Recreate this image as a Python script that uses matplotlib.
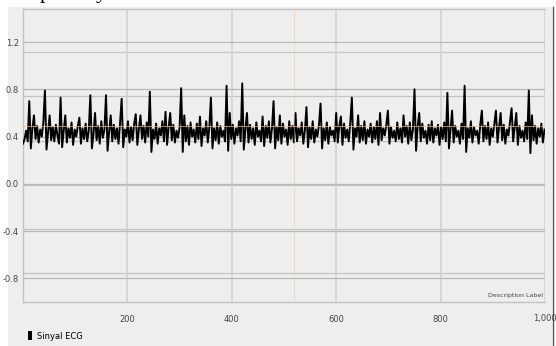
import numpy as np
import matplotlib
matplotlib.use("Agg")
from matplotlib import pyplot as plt
from matplotlib.patches import Patch, Rectangle

# ECG samples, one every 3 x-units (0 .. 999)
ecg = [
    0.34, 0.38, 0.45, 0.36, 0.70, 0.30, 0.47, 0.58, 0.38, 0.49, 0.35, 0.46, 0.40, 0.52, 0.79, 0.29, 0.44, 0.58, 0.37, 0.48,
    0.36, 0.50, 0.41, 0.34, 0.73, 0.31, 0.45, 0.58, 0.35, 0.47, 0.39, 0.52, 0.33, 0.46, 0.40, 0.49, 0.56, 0.34, 0.47, 0.38,
    0.51, 0.36, 0.45, 0.75, 0.30, 0.42, 0.60, 0.37, 0.49, 0.34, 0.53, 0.39, 0.46, 0.75, 0.28, 0.44, 0.58, 0.36, 0.50, 0.38,
    0.47, 0.34, 0.52, 0.72, 0.31, 0.46, 0.40, 0.53, 0.35, 0.48, 0.37, 0.51, 0.59, 0.33, 0.46, 0.58, 0.38, 0.49, 0.35, 0.52,
    0.40, 0.78, 0.27, 0.46, 0.38, 0.51, 0.34, 0.47, 0.41, 0.53, 0.36, 0.61, 0.33, 0.48, 0.60, 0.37, 0.50, 0.35, 0.45, 0.39,
    0.48, 0.81, 0.27, 0.58, 0.36, 0.49, 0.33, 0.52, 0.40, 0.46, 0.35, 0.51, 0.38, 0.57, 0.32, 0.47, 0.41, 0.53, 0.35, 0.48,
    0.73, 0.30, 0.47, 0.37, 0.52, 0.34, 0.49, 0.40, 0.45, 0.36, 0.83, 0.28, 0.60, 0.38, 0.50, 0.34, 0.47, 0.41, 0.53, 0.36,
    0.85, 0.29, 0.46, 0.60, 0.35, 0.50, 0.38, 0.47, 0.33, 0.52, 0.40, 0.45, 0.36, 0.57, 0.32, 0.49, 0.39, 0.53, 0.35, 0.47,
    0.70, 0.30, 0.48, 0.37, 0.58, 0.34, 0.51, 0.40, 0.46, 0.33, 0.53, 0.38, 0.49, 0.35, 0.60, 0.36, 0.47, 0.41, 0.52, 0.34,
    0.45, 0.65, 0.31, 0.48, 0.38, 0.53, 0.35, 0.46, 0.40, 0.50, 0.68, 0.30, 0.47, 0.37, 0.52, 0.34, 0.48, 0.41, 0.45, 0.36,
    0.60, 0.35, 0.49, 0.57, 0.33, 0.51, 0.39, 0.46, 0.36, 0.52, 0.73, 0.29, 0.47, 0.40, 0.58, 0.35, 0.49, 0.37, 0.53, 0.34,
    0.46, 0.40, 0.51, 0.35, 0.48, 0.38, 0.53, 0.33, 0.60, 0.37, 0.47, 0.41, 0.50, 0.62, 0.34, 0.48, 0.39, 0.45, 0.36, 0.52,
    0.38, 0.47, 0.35, 0.58, 0.40, 0.49, 0.34, 0.52, 0.37, 0.46, 0.80, 0.28, 0.48, 0.60, 0.36, 0.51, 0.39, 0.45, 0.34, 0.50,
    0.37, 0.53, 0.35, 0.47, 0.41, 0.50, 0.33, 0.48, 0.38, 0.52, 0.36, 0.77, 0.30, 0.46, 0.62, 0.35, 0.49, 0.40, 0.45, 0.34,
    0.51, 0.38, 0.83, 0.27, 0.47, 0.39, 0.53, 0.35, 0.48, 0.41, 0.45, 0.34, 0.50, 0.62, 0.36, 0.49, 0.38, 0.52, 0.33, 0.47,
    0.40, 0.51, 0.62, 0.35, 0.48, 0.60, 0.37, 0.50, 0.34, 0.46, 0.41, 0.53, 0.64, 0.36, 0.48, 0.60, 0.33, 0.49, 0.39, 0.45,
    0.36, 0.52, 0.38, 0.79, 0.26, 0.58, 0.37, 0.49, 0.34, 0.47, 0.40, 0.51, 0.35, 0.46,
]
sample_step = 3

x_ticks = [200, 400, 600, 800, 1000]
x_labels = ['200', '400', '600', '800', '1,000']
y_ticks = [-0.8, -0.4, 0.0, 0.4, 0.8, 1.2]
y_labels = ['-0.8', '-0.4', '0.0', '0.4', '0.8', '1.2']
right_ticks = [-0.8, -0.4, 0.0, 0.4, 0.8, 1.2]
highlight_x = 520
highlight_y = 0.49

font = ['Liberation Sans Narrow', 'DejaVu Sans']

fig = plt.figure(figsize=(5.56, 3.46), dpi=100)
fig.patch.set_facecolor('white')
fig.patches.append(Rectangle((8/556, 0), 544/556, 339/346, transform=fig.transFigure,
                             facecolor='#eeeeee', edgecolor='none', zorder=-5))
fig.lines.append(plt.Line2D([553/556, 553/556], [0, 339/346], transform=fig.transFigure,
                            color='#555555', lw=1.0))

# bits of document text cut off at the top
fig.text(40/556, 1 + 2/346, 'p', family='Liberation Serif', fontsize=16, va='baseline')
fig.text(96/556, 1 + 2/346, 'y', family='Liberation Serif', fontsize=16, va='baseline')

rect = [23/556, 44/346, 522/556, 293/346]
ax2 = fig.add_axes(rect)
ax = fig.add_axes(rect, sharex=ax2)
ax.set_zorder(ax2.get_zorder() + 1)
ax.patch.set_visible(False)
ax2.set_facecolor('#eeeeee')

# right axis grid (labels hidden)
ax2.set_ylim(-1.06, 1.59)
ax2.set_yticks(right_ticks)
ax2.tick_params(left=False, labelleft=False, bottom=False, labelbottom=False)
ax2.grid(axis='y', color='#c4c4c4', lw=0.9)
for s in ax2.spines.values():
    s.set_visible(False)

x = np.arange(len(ecg)) * sample_step
ax.plot(x, ecg, color='black', lw=1.4, zorder=3)
ax.axvline(highlight_x, color='#ffbb73', lw=0.6, alpha=0.5, zorder=4)
ax.axhline(highlight_y, color='#ffbb73', lw=0.7, alpha=0.7, zorder=4)

ax.set_xlim(0, 1000)
ax.set_ylim(-1.0, 1.48)
ax.set_xticks(x_ticks)
ax.set_xticklabels(x_labels, family=font, fontsize=6, color='#444444')
ax.set_yticks(y_ticks)
ax.set_yticklabels(y_labels, family=font, fontsize=6, color='#444444')
ax.tick_params(length=0, pad=9)
ax.tick_params(axis='y', pad=3)
ax.grid(axis='x', color='#d2d2d2', lw=1.2)
ax.grid(axis='y', color='#b8b8b8', lw=0.9)
for side in ['left', 'bottom', 'top']:
    ax.spines[side].set_color('#c2c2c2')
    ax.spines[side].set_linewidth(1.0)
ax.spines['right'].set_visible(False)

ax.text(0.997, 0.015, 'Description Label', transform=ax.transAxes, ha='right', va='bottom',
        family=font, fontsize=4.5, color='#444444')

fig.legend(handles=[Patch(facecolor='black')], labels=['Sinyal ECG'], loc='center left',
           bbox_to_anchor=(20/556, 1 - 336/346), frameon=False, prop={'family': font, 'size': 6},
           handlelength=0.5, handleheight=1.3, handletextpad=0.6)

fig.savefig('out.png', dpi=100)
